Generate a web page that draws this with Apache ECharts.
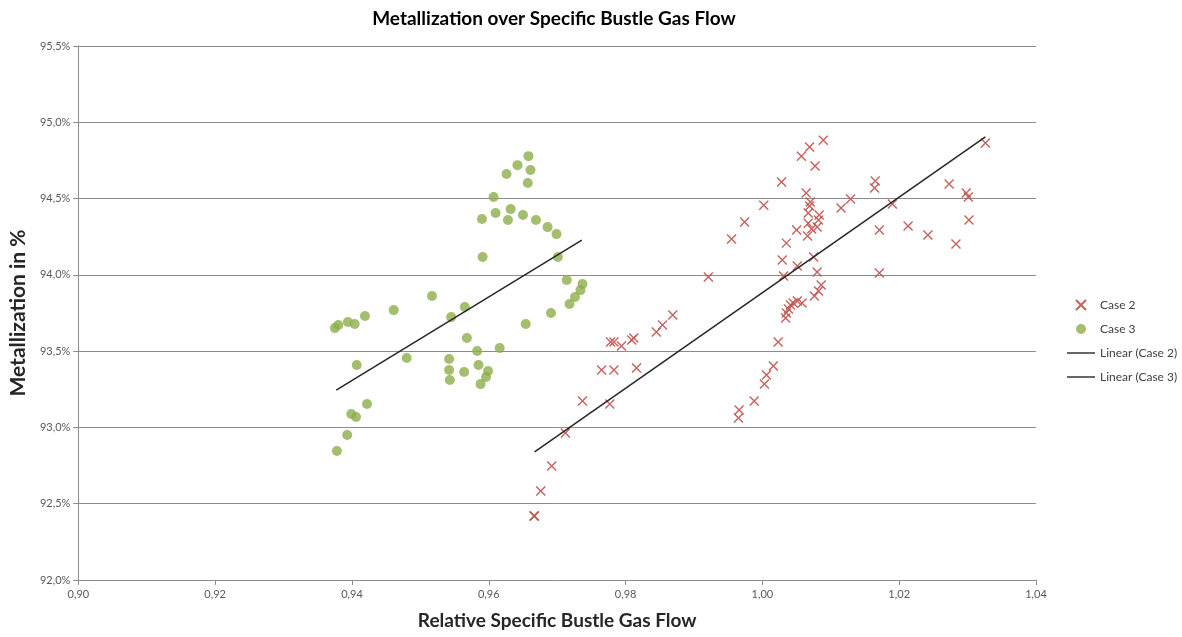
<!DOCTYPE html>
<html>
<head>
<meta charset="utf-8">
<script src="https://cdn.jsdelivr.net/npm/echarts@6/dist/echarts.min.js"></script>
<style>
  html, body { margin: 0; padding: 0; background: #fff; }
  #chart { width: 1182px; height: 637px; }
</style>
</head>
<body>
<div id="chart"></div>
<script>
// Relative specific bustle gas flow vs. metallization (%), Case 2
const case2X = [0.9667, 0.9666, 0.9676, 0.9692, 0.9712, 0.9737, 0.9777, 0.9765, 0.9783, 0.9816,
  0.9778, 0.9783, 0.9794, 0.9809, 0.9812, 0.9845, 0.9854, 0.9869, 0.9921, 0.9965,
  0.9966, 0.9988, 1.0003, 1.0006, 1.0016, 1.0023, 1.0034, 1.0035, 1.0038, 1.0041,
  1.0045, 1.0051, 1.0058, 1.0076, 1.0082, 1.0086, 1.0080, 1.0031, 1.0029, 1.0051,
  1.0075, 1.0035, 1.0050, 1.0066, 1.0072, 1.0080, 1.0067, 1.0082, 1.0083, 1.0067,
  1.0069, 1.0070, 1.0064, 1.0028, 1.0002, 0.9974, 0.9955, 1.0077, 1.0057, 1.0069,
  1.0089, 1.0129, 1.0115, 1.0165, 1.0164, 1.0190, 1.0171, 1.0171, 1.0213, 1.0242,
  1.0273, 1.0283, 1.0298, 1.0301, 1.0302, 1.0326];
const case2Y = [92.419, 92.420, 92.583, 92.747, 92.963, 93.173, 93.153, 93.376, 93.376, 93.389,
  93.560, 93.560, 93.533, 93.573, 93.586, 93.625, 93.671, 93.737, 93.986, 93.062,
  93.114, 93.173, 93.284, 93.343, 93.402, 93.560, 93.717, 93.750, 93.776, 93.802,
  93.815, 93.828, 93.815, 93.861, 93.894, 93.933, 94.018, 93.992, 94.097, 94.058,
  94.117, 94.208, 94.294, 94.254, 94.300, 94.313, 94.339, 94.359, 94.392, 94.405,
  94.451, 94.477, 94.536, 94.608, 94.457, 94.346, 94.235, 94.713, 94.778, 94.838,
  94.883, 94.497, 94.438, 94.615, 94.569, 94.464, 94.294, 94.012, 94.320, 94.261,
  94.595, 94.202, 94.536, 94.510, 94.359, 94.864];

// Case 3
const case3X = [0.9375, 0.9380, 0.9394, 0.9404, 0.9419, 0.9461, 0.9517, 0.9545, 0.9565, 0.9568,
  0.9583, 0.9616, 0.9654, 0.9691, 0.9718, 0.9726, 0.9734, 0.9737, 0.9714, 0.9701,
  0.9591, 0.9699, 0.9686, 0.9669, 0.9650, 0.9628, 0.9632, 0.9610, 0.9590, 0.9607,
  0.9657, 0.9626, 0.9661, 0.9642, 0.9658, 0.9407, 0.9480, 0.9542, 0.9542, 0.9543,
  0.9564, 0.9585, 0.9599, 0.9596, 0.9588, 0.9422, 0.9399, 0.9406, 0.9393, 0.9378];
const case3Y = [93.651, 93.671, 93.691, 93.678, 93.730, 93.769, 93.861, 93.723, 93.789, 93.586,
  93.501, 93.520, 93.678, 93.750, 93.809, 93.855, 93.900, 93.940, 93.966, 94.117,
  94.117, 94.267, 94.313, 94.359, 94.392, 94.359, 94.431, 94.405, 94.366, 94.510,
  94.602, 94.661, 94.687, 94.719, 94.778, 93.409, 93.455, 93.448, 93.376, 93.311,
  93.363, 93.409, 93.370, 93.330, 93.284, 93.153, 93.088, 93.068, 92.950, 92.845];

// Linear trend lines (start and end of each fitted line)
const trend2X = [0.9667, 1.0326];
const trend2Y = [92.840, 94.905];
const trend3X = [0.9377, 0.9736];
const trend3Y = [93.245, 94.228];

const yTicks = { min: 92.0, max: 95.5, step: 0.5 };
const xTicks = { min: 0.90, max: 1.04, step: 0.02 };

const seriesNames = ['Case 2', 'Case 3', 'Linear (Case 2)', 'Linear (Case 3)'];

function pairs(xs, ys) { return xs.map((x, i) => [x, ys[i]]); }

const labelColor = '#595959';
const font = 'Lato, "Open Sans", sans-serif';
const red = '#C0504D';
const green = '#8DAE4B';
const trendColor = '#262626';
const lineIcon = 'path://M0,0H28V1.4H0Z';

const chart = echarts.init(document.getElementById('chart'), null, { renderer: 'canvas' });
chart.setOption({
  animation: false,
  backgroundColor: '#ffffff',
  title: {
    text: 'Metallization over Specific Bustle Gas Flow',
    left: 549, top: 4, textAlign: 'center',
    textStyle: { fontFamily: font, fontWeight: 'bold', fontSize: 19, color: '#000' }
  },
  grid: { left: 77, right: 146, top: 46, bottom: 57 },
  legend: {
    orient: 'vertical',
    left: 1062, top: 294,
    itemWidth: 28, itemHeight: 10, itemGap: 12,
    textStyle: { fontFamily: font, fontSize: 12, color: '#404040' },
    data: [
      { name: seriesNames[0] },
      { name: seriesNames[1] },
      { name: seriesNames[2], icon: lineIcon, itemStyle: { color: trendColor } },
      { name: seriesNames[3], icon: lineIcon, itemStyle: { color: trendColor } }
    ]
  },
  xAxis: {
    type: 'value',
    min: xTicks.min, max: xTicks.max, interval: xTicks.step,
    name: 'Relative Specific Bustle Gas Flow',
    nameLocation: 'middle', nameGap: 31,
    nameTextStyle: { fontFamily: font, fontWeight: 'bold', fontSize: 19, color: '#262626' },
    axisLine: { lineStyle: { color: '#8c8c8c', width: 1 } },
    axisTick: { show: true, length: 5, lineStyle: { color: '#8c8c8c' } },
    axisLabel: {
      fontFamily: font, fontSize: 11, color: labelColor, margin: 9,
      formatter: v => v.toFixed(2).replace('.', ',')
    },
    splitLine: { show: false }
  },
  yAxis: {
    type: 'value',
    min: yTicks.min, max: yTicks.max, interval: yTicks.step,
    name: 'Metallization in %',
    nameLocation: 'middle', nameGap: 47,
    nameTextStyle: { fontFamily: font, fontWeight: 'bold', fontSize: 21, color: '#262626' },
    axisLine: { show: true, lineStyle: { color: '#8c8c8c', width: 1 } },
    axisTick: { show: true, length: 5, lineStyle: { color: '#8c8c8c' } },
    axisLabel: {
      fontFamily: font, fontSize: 11, color: labelColor, margin: 8,
      formatter: v => v.toFixed(1).replace('.', ',') + '%'
    },
    splitLine: { show: true, lineStyle: { color: '#8c8c8c', width: 1 } }
  },
  series: [
    {
      name: seriesNames[0], type: 'scatter',
      data: pairs(case2X, case2Y),
      symbol: 'path://M0,0L10,10M10,0L0,10',
      symbolSize: 9,
      itemStyle: { color: 'rgba(0,0,0,0)', borderColor: red, borderWidth: 1.4, opacity: 0.9 },
      z: 3
    },
    {
      name: seriesNames[1], type: 'scatter',
      data: pairs(case3X, case3Y),
      symbol: 'circle', symbolSize: 10,
      itemStyle: { color: green },
      z: 3
    },
    {
      name: seriesNames[2], type: 'line',
      data: pairs(trend2X, trend2Y),
      symbol: 'none', silent: true,
      itemStyle: { color: trendColor },
      lineStyle: { color: trendColor, width: 1.5 },
      z: 4
    },
    {
      name: seriesNames[3], type: 'line',
      data: pairs(trend3X, trend3Y),
      symbol: 'none', silent: true,
      itemStyle: { color: trendColor },
      lineStyle: { color: trendColor, width: 1.5 },
      z: 4
    }
  ]
});
</script>
</body>
</html>
